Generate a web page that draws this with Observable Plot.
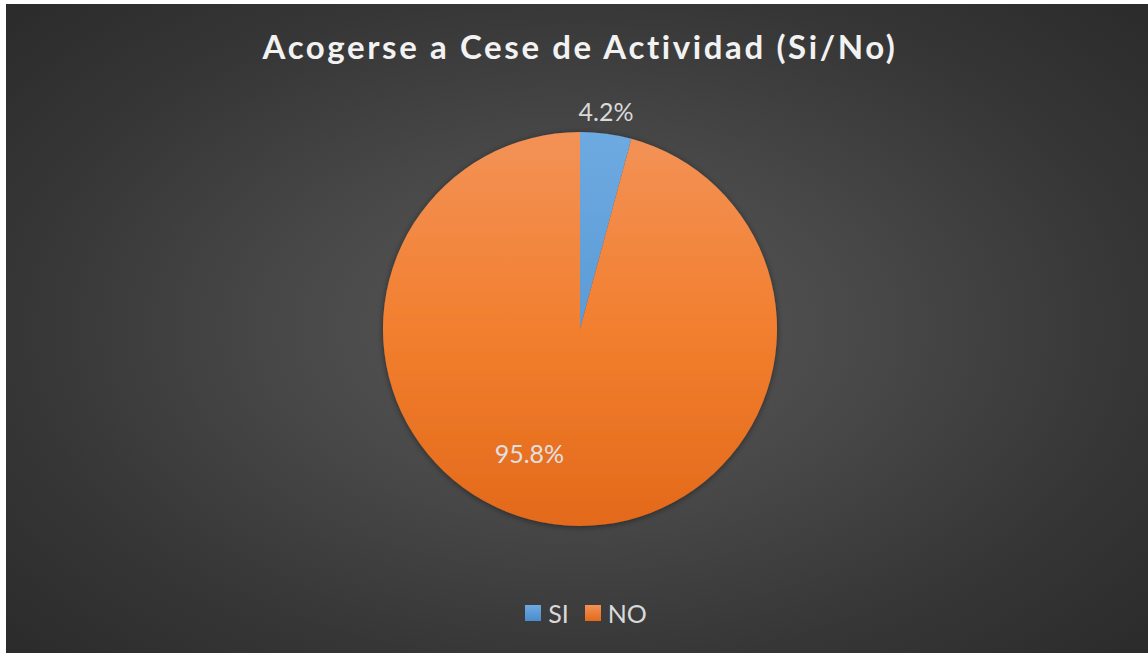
<!DOCTYPE html>
<html>
<head>
<meta charset="utf-8">
<script src="https://cdn.jsdelivr.net/npm/d3@7"></script>
<script src="https://cdn.jsdelivr.net/npm/@observablehq/plot@0.6"></script>
<style>
  html, body { margin: 0; padding: 0; background: #fff; }
  #wrap { position: relative; width: 1148px; height: 653px; overflow: hidden; background: #fff; }
  #bg { position: absolute; left: 6px; top: 4px; width: 1142px; height: 649px;
        background: radial-gradient(ellipse 70% 75% at 50% 50%, #585858 0%, #494949 35%, #363636 70%, #2a2a2a 100%); }
  #chart { position: absolute; left: 0; top: 0; }
  #title { position: absolute; left: 0; width: 1160px; top: 26px; text-align: center;
           font-family: Lato, "Open Sans", sans-serif; font-weight: 700; font-size: 33px;
           letter-spacing: 2.6px; color: #f2f2f2; }
  #legend { position: absolute; left: 0; width: 1172px; top: 596px; text-align: center;
            font-family: Lato, "Open Sans", sans-serif; font-size: 25px; color: #d9d9d9; }
  #legend .item { display: inline-flex; align-items: center; margin: 0 8px; }
  #legend .sw { display: inline-block; flex: 0 0 16px; width: 16px; height: 16px; margin-right: 7px; }
</style>
</head>
<body>
<div id="wrap">
  <div id="bg"></div>
  <div id="chart"></div>
  <div id="title"></div>
  <div id="legend"></div>
</div>
<script>
const titleText = "Acogerse a Cese de Actividad (Si/No)";
const categories = ["SI", "NO"];
const values = [4.2, 95.8];
const labels = ["4.2%", "95.8%"];
const colorsTop = ["#6eaae2", "#f39257"];
const colorsMid = ["#5b9bd5", "#f27f2f"];
const colorsBottom = ["#4a8ccc", "#e3691a"];

const data = categories.map((c, i) => ({ cat: c, value: values[i], label: labels[i] }));
const arcs = d3.pie().sort(null).value(d => d.value)(data);

// Pie center at (580, 329) with radius 197 px in a 1148x653 svg
const W = 1148, H = 653, CX = 580, CY = 329, R = 197;
const xDomain = [-CX / R, (W - CX) / R];
const yDomain = [-(H - CY) / R, CY / R];

function pieMark(index, scales, vals, dims) {
  const cx = scales.x(0), cy = scales.y(0);
  const r = scales.x(1) - scales.x(0);
  const g = d3.create("svg:g");
  const defs = g.append("defs");
  const shadow = defs.append("filter").attr("id", "sh").attr("x", "-10%").attr("y", "-10%").attr("width", "120%").attr("height", "120%");
  shadow.append("feGaussianBlur").attr("in", "SourceAlpha").attr("stdDeviation", 3);
  shadow.append("feOffset").attr("dx", 0).attr("dy", 1).attr("result", "b");
  shadow.append("feComponentTransfer").append("feFuncA").attr("type", "linear").attr("slope", 0.45);
  const m = shadow.append("feMerge");
  m.append("feMergeNode");
  m.append("feMergeNode").attr("in", "SourceGraphic");
  categories.forEach((c, i) => {
    const lg = defs.append("linearGradient").attr("id", "grad" + i)
      .attr("gradientUnits", "userSpaceOnUse")
      .attr("x1", 0).attr("x2", 0).attr("y1", -r).attr("y2", r);
    lg.append("stop").attr("offset", "0%").attr("stop-color", colorsTop[i]);
    lg.append("stop").attr("offset", "50%").attr("stop-color", colorsMid[i]);
    lg.append("stop").attr("offset", "100%").attr("stop-color", colorsBottom[i]);
  });
  const arc = d3.arc().innerRadius(0).outerRadius(r);
  const pg = g.append("g").attr("transform", `translate(${cx},${cy})`).attr("filter", "url(#sh)");
  pg.selectAll("path").data(arcs).join("path")
    .attr("d", arc)
    .attr("fill", (d, i) => `url(#grad${i})`);
  return g.node();
}

// label positions derived from slice mid-angles
const labelData = arcs.map((a, i) => {
  const mid = (a.startAngle + a.endAngle) / 2;
  const k = i === 0 ? 1.1 : 0.7;
  return { x: Math.sin(mid) * k, y: Math.cos(mid) * k, label: a.data.label, outside: i === 0 };
});

const plot = Plot.plot({
  width: W, height: H,
  margin: 0,
  x: { domain: xDomain, axis: null },
  y: { domain: yDomain, axis: null },
  style: { background: "transparent", overflow: "visible" },
  marks: [
    pieMark,
    Plot.text(labelData.filter(d => d.outside), {
      x: "x", y: "y", text: "label", fill: "#d9d9d9", fontSize: 25,
      fontFamily: "Lato, 'Open Sans', sans-serif", dx: -3, dy: -2
    }),
    Plot.text(labelData.filter(d => !d.outside), {
      x: "x", y: "y", text: "label", fill: "#e0e0e0", fontSize: 25,
      fontFamily: "Lato, 'Open Sans', sans-serif", dx: -33, dy: -11
    })
  ]
});
document.getElementById("chart").appendChild(plot);

document.getElementById("title").textContent = titleText;
const leg = d3.select("#legend");
categories.forEach((c, i) => {
  const it = leg.append("span").attr("class", "item");
  it.append("span").attr("class", "sw")
    .style("background", `linear-gradient(${colorsTop[i]}, ${colorsBottom[i]})`);
  it.append("span").text(c);
});
</script>
</body>
</html>
